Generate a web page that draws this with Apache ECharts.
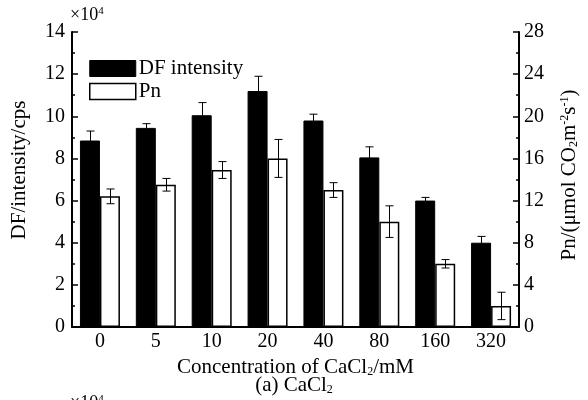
<!DOCTYPE html>
<html>
<head>
<meta charset="utf-8">
<script src="https://cdn.jsdelivr.net/npm/echarts@6/dist/echarts.min.js"></script>
<style>
  html, body { margin: 0; padding: 0; background: #fff; }
  #chart { width: 588px; height: 400px; }
</style>
</head>
<body>
<div id="chart"></div>
<script>
// CaCl2 concentration (mM)
const categories = ['0', '5', '10', '20', '40', '80', '160', '320']
// DF intensity, x10^4 cps
const dfValues = [8.85, 9.45, 10.05, 11.2, 9.8, 8.05, 6.0, 4.0]
const dfErrors = [0.45, 0.2, 0.6, 0.7, 0.3, 0.5, 0.15, 0.3]
// Pn, umol CO2 m-2 s-1
const pnValues = [12.4, 13.5, 14.9, 16.0, 13.0, 10.0, 6.0, 2.0]
const pnErrors = [0.7, 0.6, 0.8, 1.8, 0.7, 1.5, 0.4, 1.3]

const font = 'Liberation Serif'
const barWidth = 20

const chart = echarts.init(document.getElementById('chart'))

function errorBar(offset) {
  return function (params, api) {
    const idx = api.value(0)
    const mean = api.value(1)
    const err = api.value(2)
    const top = api.coord([idx, mean + err])
    const bottom = api.coord([idx, mean - err])
    const x = Math.round(top[0] + offset) + 0.5
    const style = { stroke: '#000', lineWidth: 1 }
    return {
      type: 'group',
      children: [
        { type: 'line', shape: { x1: x, y1: top[1], x2: x, y2: bottom[1] }, style },
        { type: 'line', shape: { x1: x - 4, y1: top[1], x2: x + 4, y2: top[1] }, style },
        { type: 'line', shape: { x1: x - 4, y1: bottom[1], x2: x + 4, y2: bottom[1] }, style }
      ]
    }
  }
}

const subRich = {
  sub: { fontFamily: font, fontSize: 12, verticalAlign: 'bottom', padding: [9, 0, 0, 0] },
  sup: { fontFamily: font, fontSize: 12, verticalAlign: 'top', padding: [0, 0, 9, 0] }
}
const supSmall = {
  sup: { fontFamily: font, fontSize: 11, verticalAlign: 'top', padding: [0, 0, 7, 0] }
}

const axisCommon = {
  type: 'value',
  splitLine: { show: false },
  axisLine: { show: true, lineStyle: { color: '#000', width: 2 } },
  axisTick: { show: true, inside: true, length: 6, lineStyle: { color: '#000', width: 1.5 } },
  minorTick: { show: true, splitNumber: 2, length: 3, lineStyle: { color: '#000', width: 1.5 } }
}

chart.setOption({
  animation: false,
  textStyle: { fontFamily: font, color: '#000' },
  grid: { left: 72, right: 69, top: 32, bottom: 73 },
  legend: {
    orient: 'vertical',
    left: 89,
    top: 58,
    padding: 0,
    itemWidth: 46,
    itemHeight: 16,
    itemGap: 2,
    icon: 'rect',
    textStyle: { fontFamily: font, fontSize: 21, color: '#000', padding: [0, 0, 0, -2] },
    data: [
      { name: 'DF intensity', itemStyle: { color: '#000', borderColor: '#000', borderWidth: 1 } },
      { name: 'Pn', itemStyle: { color: '#fff', borderColor: '#000', borderWidth: 1.5 } }
    ]
  },
  xAxis: {
    type: 'category',
    data: categories,
    axisLine: { lineStyle: { color: '#000', width: 2 } },
    axisTick: { show: false },
    axisLabel: { fontFamily: font, fontSize: 20, color: '#000', margin: 5 },
    name: 'Concentration of CaCl{sub|2}/mM',
    nameLocation: 'middle',
    nameGap: 22,
    nameTextStyle: { fontFamily: font, fontSize: 21, color: '#000', rich: subRich }
  },
  yAxis: [
    Object.assign({}, axisCommon, {
      min: 0,
      max: 14,
      interval: 2,
      axisLabel: { fontFamily: font, fontSize: 20, color: '#000', margin: 7 }
    }),
    Object.assign({}, axisCommon, {
      min: 0,
      max: 28,
      interval: 4,
      axisLabel: { fontFamily: font, fontSize: 20, color: '#000', margin: 5 }
    })
  ],
  graphic: [
    {
      type: 'text',
      x: 19,
      y: 170,
      rotation: Math.PI / 2,
      style: {
        text: 'DF/intensity/cps',
        fontFamily: font,
        fontSize: 21,
        fill: '#000',
        align: 'center',
        verticalAlign: 'middle'
      }
    },
    {
      type: 'text',
      x: 569,
      y: 175,
      rotation: Math.PI / 2,
      style: {
        text: 'Pn/(μmol CO{sub|2}m{sup|-2}s{sup|-1})',
        fontFamily: font,
        fontSize: 21,
        fill: '#000',
        align: 'center',
        verticalAlign: 'middle',
        rich: subRich
      }
    },
    {
      type: 'text',
      left: 70,
      top: 6,
      style: { text: '×10{sup|4}', fontFamily: font, fontSize: 18, fill: '#000', rich: supSmall }
    },
    {
      type: 'text',
      left: 'center',
      top: 375,
      style: { text: '(a) CaCl{sub|2}', fontFamily: font, fontSize: 21, fill: '#000', rich: subRich }
    },
    {
      type: 'text',
      left: 70,
      top: 394,
      style: { text: '×10{sup|4}', fontFamily: font, fontSize: 18, fill: '#000', rich: supSmall }
    }
  ],
  series: [
    {
      name: 'DF intensity',
      type: 'bar',
      barWidth: barWidth,
      barGap: '0%',
      data: dfValues,
      itemStyle: { color: '#000', borderColor: '#000', borderWidth: 1 }
    },
    {
      name: 'Pn',
      type: 'bar',
      yAxisIndex: 1,
      barWidth: barWidth,
      barGap: '0%',
      data: pnValues,
      itemStyle: { color: '#fff', borderColor: '#000', borderWidth: 1.5 }
    },
    {
      type: 'custom',
      name: 'DF error',
      renderItem: errorBar(-barWidth / 2),
      data: dfValues.map((v, i) => [i, v, dfErrors[i]]),
      encode: { x: 0, y: 1 },
      z: 5
    },
    {
      type: 'custom',
      name: 'Pn error',
      yAxisIndex: 1,
      renderItem: errorBar(barWidth / 2),
      data: pnValues.map((v, i) => [i, v, pnErrors[i]]),
      encode: { x: 0, y: 1 },
      z: 5
    }
  ]
})
</script>
</body>
</html>
